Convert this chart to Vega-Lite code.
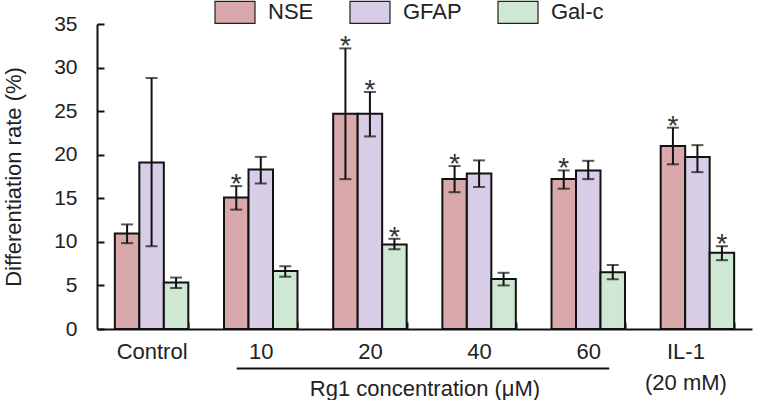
{
  "$schema": "https://vega.github.io/schema/vega-lite/v6.json",
  "width": 655,
  "height": 305,
  "autosize": {"type": "none"},
  "padding": {"left": 97, "top": 24, "right": 6, "bottom": 71},
  "config": {
    "view": {"stroke": null},
    "font": "Liberation Sans",
    "axis": {
      "domainColor": "#111",
      "domainWidth": 2,
      "tickColor": "#111",
      "tickWidth": 2,
      "labelColor": "#222",
      "titleColor": "#222",
      "labelFont": "Liberation Sans",
      "titleFont": "Liberation Sans",
      "labelFontSize": 22,
      "titleFontSize": 22,
      "titleFontWeight": "normal",
      "grid": false
    }
  },
  "data": {
    "values": [
      {"group": "Control", "series": "NSE", "value": 10.95, "lo": 9.85, "hi": 12.0, "sig": false},
      {"group": "Control", "series": "GFAP", "value": 19.1, "lo": 9.5, "hi": 28.8, "sig": false},
      {"group": "Control", "series": "Gal-c", "value": 5.35, "lo": 4.7, "hi": 5.9, "sig": false},
      {"group": "10", "series": "NSE", "value": 15.1, "lo": 13.7, "hi": 16.4, "sig": true},
      {"group": "10", "series": "GFAP", "value": 18.3, "lo": 16.7, "hi": 19.75, "sig": false},
      {"group": "10", "series": "Gal-c", "value": 6.65, "lo": 6.0, "hi": 7.2, "sig": false},
      {"group": "20", "series": "NSE", "value": 24.7, "lo": 17.2, "hi": 32.2, "sig": true},
      {"group": "20", "series": "GFAP", "value": 24.7, "lo": 22.1, "hi": 27.2, "sig": true},
      {"group": "20", "series": "Gal-c", "value": 9.7, "lo": 9.15, "hi": 10.35, "sig": true},
      {"group": "40", "series": "NSE", "value": 17.2, "lo": 15.7, "hi": 18.7, "sig": true},
      {"group": "40", "series": "GFAP", "value": 17.85, "lo": 16.3, "hi": 19.35, "sig": false},
      {"group": "40", "series": "Gal-c", "value": 5.75, "lo": 5.0, "hi": 6.45, "sig": false},
      {"group": "60", "series": "NSE", "value": 17.2, "lo": 16.1, "hi": 18.2, "sig": true},
      {"group": "60", "series": "GFAP", "value": 18.2, "lo": 17.2, "hi": 19.3, "sig": false},
      {"group": "60", "series": "Gal-c", "value": 6.5, "lo": 5.7, "hi": 7.35, "sig": false},
      {"group": "IL-1", "series": "NSE", "value": 21.0, "lo": 18.9, "hi": 23.1, "sig": true},
      {"group": "IL-1", "series": "GFAP", "value": 19.75, "lo": 18.0, "hi": 21.1, "sig": false},
      {"group": "IL-1", "series": "Gal-c", "value": 8.75, "lo": 7.9, "hi": 9.5, "sig": true}
    ]
  },
  "encoding": {
    "x": {
      "field": "group",
      "type": "nominal",
      "sort": ["Control", "10", "20", "40", "60", "IL-1"],
      "scale": {"paddingInner": 0.327, "paddingOuter": 0.1635},
      "axis": {
        "title": "Rg1 concentration (μM)",
        "labelAngle": 0,
        "tickBand": "extent",
        "tickSize": -7,
        "labelPadding": 19,
        "labelLineHeight": 31,
        "labelExpr": "datum.value == 'IL-1' ? ['IL-1', '(20 mM)'] : datum.value",
        "labelOffset": {"condition": {"test": "datum.value == 'IL-1'", "value": -12}, "value": 0},
        "titleY": 66,
        "titleBaseline": "alphabetic"
      }
    }
  },
  "layer": [
    {
      "mark": {"type": "bar", "stroke": "#111", "strokeWidth": 2},
      "encoding": {
        "xOffset": {"field": "series", "sort": ["NSE", "GFAP", "Gal-c"], "scale": {"paddingInner": 0, "paddingOuter": 0}},
        "y": {
          "field": "value",
          "type": "quantitative",
          "scale": {"domain": [0, 35], "nice": false},
          "axis": {
            "title": "Differentiation rate (%)",
            "values": [0, 5, 10, 15, 20, 25, 30, 35],
            "tickSize": -7,
            "labelPadding": 27,
            "labelFontSize": 21,
            "titleX": -77,
            "titleBaseline": "alphabetic"
          }
        },
        "color": {
          "field": "series",
          "type": "nominal",
          "sort": ["NSE", "GFAP", "Gal-c"],
          "scale": {"domain": ["NSE", "GFAP", "Gal-c"], "range": ["#d9a8aa", "#d8cde6", "#cfe8d3"]},
          "legend": {
            "title": null,
            "orient": "none",
            "direction": "horizontal",
            "legendX": 117,
            "legendY": -33,
            "symbolType": "M-1,-0.55H1V0.55H-1Z",
            "symbolSize": 1600,
            "symbolStrokeColor": "#222",
            "symbolStrokeWidth": 1.2,
            "symbolOpacity": 1,
            "labelFontSize": 22,
            "labelFont": "Liberation Sans",
            "labelColor": "#222",
            "labelOffset": 12,
            "columnPadding": 33
          }
        }
      }
    },
    {
      "mark": {"type": "rule", "color": "#111", "strokeWidth": 2},
      "encoding": {
        "xOffset": {"field": "series", "sort": ["NSE", "GFAP", "Gal-c"]},
        "y": {"field": "lo", "type": "quantitative"},
        "y2": {"field": "hi"}
      }
    },
    {
      "mark": {"type": "tick", "color": "#111", "size": 12, "thickness": 2},
      "encoding": {
        "xOffset": {"field": "series", "sort": ["NSE", "GFAP", "Gal-c"]},
        "y": {"field": "lo", "type": "quantitative"}
      }
    },
    {
      "mark": {"type": "tick", "color": "#111", "size": 12, "thickness": 2},
      "encoding": {
        "xOffset": {"field": "series", "sort": ["NSE", "GFAP", "Gal-c"]},
        "y": {"field": "hi", "type": "quantitative"}
      }
    },
    {
      "transform": [{"filter": "datum.sig"}],
      "mark": {"type": "text", "text": "*", "fontSize": 28, "font": "Liberation Sans", "color": "#333", "align": "center", "baseline": "alphabetic", "dy": 7},
      "encoding": {
        "xOffset": {"field": "series", "sort": ["NSE", "GFAP", "Gal-c"]},
        "y": {"field": "hi", "type": "quantitative"}
      }
    },
    {
      "transform": [{"filter": "datum.group == '10' && datum.series == 'NSE'"}],
      "mark": {"type": "rule", "color": "#111", "strokeWidth": 2, "xOffset": -24, "x2Offset": 21},
      "encoding": {
        "x": {"field": "group", "type": "nominal", "sort": ["Control", "10", "20", "40", "60", "IL-1"], "bandPosition": 0.5},
        "x2": {"datum": "60", "bandPosition": 0.5},
        "y": {"datum": -4.54, "type": "quantitative"}
      }
    }
  ]
}
